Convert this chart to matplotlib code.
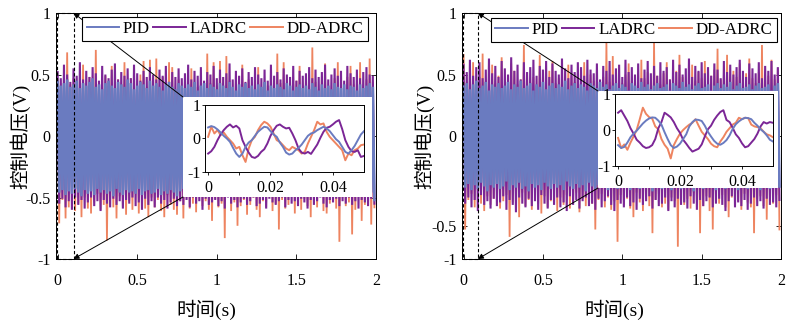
import numpy as np
import matplotlib
matplotlib.use('Agg')
import matplotlib.pyplot as plt
from matplotlib.patches import Rectangle

plt.rcParams['font.family'] = ['Liberation Serif', 'Noto Sans CJK SC', 'DejaVu Sans']
plt.rcParams['axes.unicode_minus'] = False

# ---------------- text / categories ----------------
series_names = ['PID', 'LADRC', 'DD-ADRC']
colors = {'PID': '#6a7bc0', 'LADRC': '#7b2696', 'DD-ADRC': '#ee8460'}
xlabel_text = '时间(s)'
ylabel_text = '控制电压(V)'
xtick_vals = [0, 0.5, 1, 1.5, 2]
xtick_labels = ['0', '0.5', '1', '1.5', '2']
ytick_labels = ['-1', '-0.5', '0', '0.5', '1']
ytick_vals_left = [-1, -0.5, 0, 0.5, 1]
ytick_vals_right = [-1, -0.73, 0, 0.5, 1]
inset_xtick_vals = [0, 0.01, 0.02, 0.03, 0.04]
inset_xtick_labels = ['0', '', '0.02', '', '0.04']
inset_ytick_vals = [-1, 0, 1]
inset_ytick_labels = ['-1', '0', '1']

main_step = 0.01     # s between successive peak samples (upper, lower alternate)
inset_step = 0.001   # s

# ---------------- left panel: peak values (upper / lower per cycle) ----------------
L_pid_up = [0.44,0.41,0.43,0.46,0.40,0.42,0.45,0.39,0.43,0.41,
            0.44,0.47,0.40,0.42,0.38,0.43,0.45,0.41,0.39,0.44,
            0.42,0.40,0.46,0.43,0.38,0.41,0.44,0.42,0.39,0.45,
            0.41,0.43,0.40,0.37,0.42,0.44,0.40,0.38,0.43,0.41,
            0.39,0.42,0.40,0.44,0.37,0.41,0.43,0.39,0.42,0.40,
            0.38,0.43,0.41,0.39,0.44,0.40,0.37,0.42,0.40,0.43,
            0.39,0.41,0.38,0.42,0.40,0.44,0.37,0.41,0.39,0.42,
            0.40,0.38,0.43,0.41,0.37,0.40,0.42,0.39,0.41,0.38,
            0.43,0.40,0.37,0.42,0.39,0.41,0.38,0.43,0.40,0.39,
            0.42,0.38,0.41,0.40,0.37,0.42,0.39,0.41,0.43,0.40]
L_pid_lo = [-0.46,-0.44,-0.48,-0.45,-0.47,-0.43,-0.46,-0.49,-0.44,-0.47,
            -0.45,-0.48,-0.43,-0.46,-0.44,-0.47,-0.45,-0.49,-0.43,-0.46,
            -0.48,-0.44,-0.46,-0.45,-0.47,-0.43,-0.48,-0.45,-0.44,-0.47,
            -0.46,-0.43,-0.48,-0.45,-0.47,-0.44,-0.46,-0.49,-0.45,-0.43,
            -0.47,-0.45,-0.48,-0.44,-0.46,-0.47,-0.43,-0.45,-0.48,-0.44,
            -0.46,-0.45,-0.47,-0.43,-0.48,-0.46,-0.44,-0.47,-0.45,-0.49,
            -0.44,-0.46,-0.48,-0.45,-0.43,-0.47,-0.46,-0.44,-0.48,-0.45,
            -0.47,-0.43,-0.46,-0.49,-0.45,-0.44,-0.47,-0.46,-0.48,-0.44,
            -0.45,-0.47,-0.43,-0.46,-0.48,-0.45,-0.44,-0.47,-0.46,-0.49,
            -0.45,-0.43,-0.47,-0.46,-0.44,-0.48,-0.45,-0.47,-0.46,-0.52]
L_lad_up = [0.52,0.47,0.58,0.50,0.44,0.55,0.49,0.60,0.46,0.53,
            0.48,0.56,0.51,0.45,0.57,0.50,0.47,0.54,0.59,0.46,
            0.52,0.49,0.55,0.47,0.58,0.51,0.45,0.53,0.48,0.56,
            0.50,0.46,0.54,0.49,0.57,0.44,0.52,0.48,0.55,0.47,
            0.51,0.58,0.46,0.53,0.49,0.56,0.45,0.52,0.50,0.57,
            0.47,0.54,0.48,0.51,0.59,0.46,0.53,0.49,0.55,0.44,
            0.52,0.48,0.56,0.50,0.47,0.54,0.45,0.58,0.49,0.52,
            0.46,0.55,0.50,0.48,0.57,0.45,0.53,0.49,0.51,0.56,
            0.47,0.54,0.48,0.52,0.58,0.46,0.50,0.55,0.49,0.53,
            0.45,0.57,0.51,0.48,0.54,0.47,0.52,0.56,0.50,0.49]
L_lad_lo = [-0.55,-0.51,-0.58,-0.53,-0.60,-0.50,-0.56,-0.52,-0.59,-0.54,
            -0.50,-0.57,-0.53,-0.61,-0.52,-0.55,-0.58,-0.51,-0.56,-0.53,
            -0.59,-0.52,-0.55,-0.50,-0.57,-0.54,-0.60,-0.51,-0.56,-0.53,
            -0.58,-0.50,-0.55,-0.52,-0.59,-0.54,-0.51,-0.57,-0.53,-0.56,
            -0.52,-0.58,-0.50,-0.55,-0.53,-0.60,-0.51,-0.56,-0.54,-0.52,
            -0.57,-0.53,-0.59,-0.50,-0.55,-0.52,-0.58,-0.54,-0.51,-0.56,
            -0.53,-0.50,-0.57,-0.55,-0.52,-0.59,-0.51,-0.54,-0.56,-0.53,
            -0.50,-0.58,-0.52,-0.55,-0.53,-0.57,-0.51,-0.54,-0.59,-0.52,
            -0.56,-0.53,-0.50,-0.55,-0.58,-0.52,-0.54,-0.51,-0.57,-0.53,
            -0.55,-0.50,-0.56,-0.53,-0.59,-0.52,-0.54,-0.57,-0.51,-0.55]
L_dd_up = [0.45,0.38,0.50,0.68,0.42,0.47,0.35,0.44,0.58,0.40,
           0.48,0.36,0.70,0.43,0.39,0.49,0.41,0.57,0.37,0.46,
           0.42,0.60,0.38,0.47,0.44,0.36,0.50,0.61,0.40,0.62,
           0.45,0.63,0.39,0.48,0.42,0.60,0.56,0.37,0.46,0.41,
           0.49,0.35,0.55,0.44,0.40,0.47,0.38,0.67,0.43,0.60,
           0.41,0.61,0.36,0.65,0.45,0.39,0.48,0.42,0.58,0.37,
           0.46,0.40,0.49,0.56,0.38,0.44,0.41,0.47,0.35,0.67,
           0.43,0.60,0.39,0.48,0.42,0.45,0.57,0.37,0.46,0.40,
           0.72,0.44,0.38,0.49,0.59,0.41,0.36,0.47,0.60,0.43,
           0.39,0.48,0.57,0.42,0.45,0.60,0.37,0.46,0.63,0.44]
L_dd_lo = [-0.71,-0.52,-0.67,-0.58,-0.48,-0.61,-0.55,-0.66,-0.50,-0.59,
           -0.63,-0.54,-0.47,-0.60,-0.56,-0.85,-0.51,-0.58,-0.67,-0.49,
           -0.57,-0.64,-0.53,-0.60,-0.46,-0.63,-0.55,-0.59,-0.66,-0.50,
           -0.58,-0.52,-0.61,-0.66,-0.48,-0.56,-0.60,-0.64,-0.53,-0.67,
           -0.50,-0.59,-0.55,-0.62,-0.47,-0.57,-0.53,-0.60,-0.69,-0.51,
           -0.58,-0.55,-0.83,-0.49,-0.61,-0.54,-0.73,-0.57,-0.52,-0.64,
           -0.56,-0.50,-0.60,-0.66,-0.53,-0.58,-0.47,-0.61,-0.55,-0.76,
           -0.52,-0.59,-0.56,-0.49,-0.63,-0.54,-0.60,-0.51,-0.57,-0.66,
           -0.53,-0.58,-0.48,-0.61,-0.63,-0.55,-0.52,-0.59,-0.86,-0.50,
           -0.57,-0.54,-0.80,-0.60,-0.49,-0.69,-0.56,-0.53,-0.72,-0.58]

# ---------------- right panel: peak values ----------------
R_pid_up = [0.40,0.43,0.38,0.42,0.45,0.39,0.41,0.44,0.37,0.42,
            0.40,0.43,0.39,0.41,0.44,0.38,0.42,0.40,0.45,0.39,
            0.41,0.43,0.37,0.42,0.40,0.44,0.38,0.41,0.43,0.39,
            0.42,0.40,0.45,0.38,0.41,0.43,0.39,0.42,0.40,0.37,
            0.43,0.41,0.39,0.44,0.40,0.42,0.38,0.41,0.43,0.39,
            0.42,0.40,0.37,0.43,0.41,0.39,0.44,0.40,0.42,0.38,
            0.41,0.43,0.39,0.40,0.42,0.37,0.43,0.41,0.39,0.44,
            0.40,0.42,0.38,0.41,0.43,0.39,0.40,0.42,0.37,0.41,
            0.43,0.39,0.42,0.40,0.44,0.38,0.41,0.43,0.39,0.40,
            0.42,0.38,0.41,0.43,0.39,0.40,0.42,0.37,0.41,0.43]
R_pid_lo = [-0.42,-0.39,-0.44,-0.40,-0.43,-0.38,-0.41,-0.45,-0.40,-0.42,
            -0.39,-0.43,-0.41,-0.37,-0.44,-0.40,-0.42,-0.38,-0.43,-0.41,
            -0.45,-0.39,-0.42,-0.40,-0.44,-0.38,-0.41,-0.43,-0.39,-0.42,
            -0.40,-0.44,-0.37,-0.41,-0.43,-0.39,-0.42,-0.40,-0.45,-0.38,
            -0.41,-0.43,-0.40,-0.42,-0.39,-0.44,-0.41,-0.38,-0.43,-0.40,
            -0.42,-0.39,-0.44,-0.41,-0.37,-0.43,-0.40,-0.42,-0.39,-0.45,
            -0.41,-0.38,-0.43,-0.40,-0.42,-0.44,-0.39,-0.41,-0.43,-0.38,
            -0.40,-0.42,-0.45,-0.39,-0.41,-0.43,-0.40,-0.37,-0.42,-0.44,
            -0.39,-0.41,-0.43,-0.40,-0.38,-0.42,-0.44,-0.39,-0.41,-0.43,
            -0.40,-0.42,-0.38,-0.44,-0.41,-0.39,-0.43,-0.40,-0.42,-0.41]
R_lad_up = [0.58,0.52,0.62,0.49,0.56,0.60,0.47,0.54,0.63,0.51,
            0.57,0.48,0.61,0.55,0.50,0.64,0.53,0.58,0.46,0.60,
            0.52,0.56,0.62,0.49,0.57,0.54,0.61,0.48,0.59,0.53,
            0.50,0.63,0.55,0.47,0.58,0.52,0.60,0.56,0.49,0.62,
            0.54,0.51,0.59,0.46,0.57,0.53,0.61,0.50,0.55,0.58,
            0.48,0.62,0.52,0.56,0.50,0.59,0.47,0.54,0.61,0.51,
            0.57,0.49,0.60,0.53,0.56,0.46,0.62,0.52,0.58,0.50,
            0.55,0.63,0.48,0.57,0.53,0.60,0.51,0.56,0.49,0.59,
            0.54,0.47,0.61,0.52,0.58,0.50,0.56,0.62,0.53,0.48,
            0.59,0.55,0.51,0.60,0.47,0.57,0.53,0.61,0.50,0.56]
R_lad_lo = [-0.55,-0.50,-0.58,-0.52,-0.61,-0.48,-0.56,-0.53,-0.59,-0.51,
            -0.57,-0.54,-0.49,-0.60,-0.52,-0.56,-0.62,-0.50,-0.55,-0.58,
            -0.51,-0.57,-0.53,-0.60,-0.48,-0.55,-0.59,-0.52,-0.56,-0.50,
            -0.58,-0.54,-0.61,-0.49,-0.56,-0.52,-0.59,-0.53,-0.50,-0.57,
            -0.55,-0.60,-0.51,-0.58,-0.53,-0.49,-0.56,-0.61,-0.52,-0.55,
            -0.58,-0.50,-0.57,-0.54,-0.60,-0.51,-0.56,-0.53,-0.49,-0.59,
            -0.52,-0.57,-0.55,-0.50,-0.61,-0.53,-0.58,-0.51,-0.56,-0.54,
            -0.59,-0.49,-0.55,-0.60,-0.52,-0.57,-0.53,-0.50,-0.58,-0.55,
            -0.51,-0.56,-0.61,-0.53,-0.49,-0.58,-0.54,-0.57,-0.52,-0.60,
            -0.55,-0.50,-0.57,-0.53,-0.59,-0.51,-0.56,-0.54,-0.58,-0.52]
R_dd_up = [0.66,0.44,0.50,0.60,0.41,0.48,0.67,0.45,0.52,0.58,
           0.43,0.49,0.64,0.40,0.47,0.59,0.53,0.42,0.46,0.74,
           0.51,0.44,0.48,0.41,0.66,0.50,0.45,0.53,0.61,0.43,
           0.47,0.52,0.40,0.58,0.49,0.44,0.51,0.46,0.60,0.42,
           0.50,0.45,0.53,0.41,0.48,0.76,0.44,0.65,0.52,0.46,
           0.43,0.50,0.59,0.45,0.48,0.41,0.62,0.47,0.52,0.44,
           0.76,0.49,0.42,0.51,0.60,0.46,0.43,0.53,0.66,0.48,
           0.41,0.50,0.58,0.45,0.52,0.47,0.61,0.43,0.49,0.54,
           0.71,0.46,0.50,0.66,0.42,0.53,0.48,0.59,0.44,0.51,
           0.63,0.47,0.43,0.52,0.74,0.45,0.49,0.62,0.46,0.55]
R_dd_lo = [-0.76,-0.52,-0.47,-0.58,-0.44,-0.55,-0.61,-0.49,-0.56,-0.51,
           -0.45,-0.59,-0.53,-0.48,-0.82,-0.54,-0.50,-0.66,-0.46,-0.57,
           -0.52,-0.60,-0.47,-0.55,-0.63,-0.49,-0.58,-0.53,-0.45,-0.61,
           -0.50,-0.56,-0.48,-0.59,-0.54,-0.46,-0.62,-0.51,-0.57,-0.49,
           -0.55,-0.76,-0.52,-0.47,-0.58,-0.50,-0.60,-0.53,-0.86,-0.48,
           -0.56,-0.51,-0.59,-0.66,-0.46,-0.54,-0.61,-0.49,-0.57,-0.79,
           -0.52,-0.47,-0.58,-0.55,-0.60,-0.50,-0.53,-0.90,-0.48,-0.56,
           -0.51,-0.59,-0.46,-0.54,-0.79,-0.57,-0.49,-0.61,-0.76,-0.52,
           -0.55,-0.48,-0.58,-0.66,-0.50,-0.56,-0.53,-0.60,-0.47,-0.54,
           -0.58,-0.79,-0.51,-0.49,-0.57,-0.68,-0.52,-0.55,-0.48,-0.76]

# ---------------- inset (0 - 0.05 s) samples ----------------
LI_pid = [0.33,0.37,0.34,0.27,0.18,0.08,0.00,-0.10,-0.28,-0.45,
          -0.55,-0.45,-0.25,-0.12,-0.05,0.08,0.20,0.28,0.35,0.33,
          0.22,0.12,0.05,-0.12,-0.25,-0.42,-0.48,-0.45,-0.35,-0.28,
          -0.18,-0.05,0.08,0.15,0.18,0.25,0.30,0.35,0.30,0.22,
          0.10,-0.02,-0.10,-0.25,-0.40,-0.45,-0.35,-0.22,-0.05,0.12,
          0.22]
LI_lad = [-0.45,-0.38,-0.25,-0.05,0.12,0.25,0.35,0.42,0.33,0.38,
          0.30,-0.05,-0.25,-0.42,-0.55,-0.58,-0.52,-0.40,-0.32,-0.15,
          0.08,0.25,0.38,0.42,0.35,0.30,0.32,0.15,-0.05,-0.30,
          -0.42,-0.45,-0.40,-0.46,-0.32,-0.18,0.02,0.20,0.32,0.35,
          0.42,0.50,0.55,0.28,-0.05,-0.25,-0.38,-0.40,-0.35,-0.55,
          -0.52]
LI_dd = [0.05,0.35,0.15,0.25,0.10,0.18,0.05,-0.05,-0.15,-0.30,
         -0.25,-0.50,-0.70,-0.30,-0.05,0.05,0.25,0.40,0.50,0.45,
         0.35,0.15,-0.05,-0.10,-0.20,-0.30,-0.35,-0.25,-0.30,-0.35,
         -0.45,-0.40,-0.15,0.05,0.25,0.50,0.42,0.45,0.20,0.05,
         -0.05,-0.15,-0.25,-0.35,-0.65,-0.45,-0.50,-0.35,-0.30,-0.20,
         -0.18]
RI_pid = [-0.42,-0.50,-0.47,-0.35,-0.20,-0.10,-0.02,0.08,0.18,0.26,
          0.32,0.35,0.34,0.26,0.15,-0.06,-0.25,-0.42,-0.50,-0.46,
          -0.38,-0.25,-0.12,0.10,0.22,0.29,0.28,0.25,0.12,-0.05,
          -0.18,-0.30,-0.38,-0.41,-0.36,-0.28,-0.15,0.03,0.16,0.24,
          0.30,0.34,0.33,0.30,0.20,0.12,0.02,-0.05,-0.15,-0.27,
          -0.32]
RI_lad = [0.48,0.55,0.40,0.25,0.05,-0.10,-0.27,-0.35,-0.45,-0.50,
          -0.48,-0.42,-0.25,0.05,0.22,0.48,0.42,0.35,0.22,0.05,
          -0.08,-0.27,-0.38,-0.50,-0.60,-0.56,-0.52,-0.40,-0.18,0.02,
          0.12,0.28,0.40,0.50,0.55,0.28,0.22,0.06,-0.12,-0.22,
          -0.37,-0.48,-0.45,-0.35,-0.25,-0.10,0.10,0.22,0.18,0.22,
          0.20]
RI_dd = [-0.22,-0.50,-0.40,-0.55,-0.35,-0.18,0.00,0.30,0.62,0.45,
         0.36,0.32,0.10,0.02,-0.25,-0.41,-0.52,-0.79,-0.42,-0.25,
         -0.10,0.00,0.08,0.15,0.20,0.30,0.12,-0.05,-0.15,-0.25,
         -0.38,-0.45,-0.48,-0.32,-0.20,-0.05,0.05,0.15,0.20,0.34,
         0.30,0.34,0.33,0.15,0.10,0.08,0.05,-0.05,-0.12,-0.15,
         -0.20]

for arr in [L_pid_up, L_pid_lo, L_lad_up, L_lad_lo, L_dd_up, L_dd_lo,
            R_pid_up, R_pid_lo, R_lad_up, R_lad_lo, R_dd_up, R_dd_lo]:
    assert len(arr) == 100, len(arr)
for arr in [LI_pid, LI_lad, LI_dd, RI_pid, RI_lad, RI_dd]:
    assert len(arr) == 51, len(arr)


def interleave(up, lo):
    v = np.empty(2 * len(up))
    v[0::2] = up
    v[1::2] = lo
    return v


t_main = np.arange(200) * main_step
t_inset = np.arange(51) * inset_step

fig = plt.figure(figsize=(7.99, 3.33), dpi=100)

panels = [
    dict(rect=[0.0701, 0.2222, 0.4005, 0.7387],
         main={'PID': (L_pid_up, L_pid_lo), 'LADRC': (L_lad_up, L_lad_lo), 'DD-ADRC': (L_dd_up, L_dd_lo)},
         inset={'PID': LI_pid, 'LADRC': LI_lad, 'DD-ADRC': LI_dd},
         yticks=ytick_vals_left, zoom_x=(-0.006, 0.1),
         box=(0.229, 0.4084, 0.2366, 0.3003),
         inset_rect=[0.2566, 0.4835, 0.1990, 0.2012],
         leg_anchor=(0.975, 0.984), xl=0.469, yl=-0.1125),
    dict(rect=[0.5782, 0.2222, 0.3993, 0.7387],
         main={'PID': (R_pid_up, R_pid_lo), 'LADRC': (R_lad_up, R_lad_lo), 'DD-ADRC': (R_dd_up, R_dd_lo)},
         inset={'PID': RI_pid, 'LADRC': RI_lad, 'DD-ADRC': RI_dd},
         yticks=ytick_vals_right, zoom_x=(-0.006, 0.09),
         box=(0.7484, 0.4354, 0.2253, 0.2913),
         inset_rect=[0.7697, 0.5015, 0.1977, 0.2162],
         leg_anchor=(0.987, 0.980), xl=0.476, yl=-0.1176),
]

draw_order = ['DD-ADRC', 'LADRC', 'PID']
main_lw = {'DD-ADRC': 1.3, 'LADRC': 1.5, 'PID': 1.9}

for p in panels:
    ax = fig.add_axes(p['rect'])
    handles = {}
    for name in draw_order:
        up, lo = p['main'][name]
        handles[name], = ax.plot(t_main, interleave(up, lo), color=colors[name],
                                 lw=main_lw[name], zorder=2, solid_joinstyle='miter')
    ax.set_xlim(-0.01, 2)
    ax.set_ylim(-1, 1)
    ax.set_xticks(xtick_vals)
    ax.set_xticklabels(xtick_labels)
    ax.set_yticks(p['yticks'])
    ax.set_yticklabels(ytick_labels)
    ax.tick_params(direction='in', length=3.5, width=0.6, top=True, right=True, labelsize=11.5)
    ax.tick_params(axis='x', pad=10)
    ax.tick_params(axis='y', pad=4)
    for s in ax.spines.values():
        s.set_linewidth(0.7)
    ax.set_xlabel(xlabel_text, fontsize=14)
    ax.xaxis.label.set_va('center')
    ax.xaxis.set_label_coords(p['xl'], -0.207)
    ax.set_ylabel(ylabel_text, fontsize=14)
    ax.yaxis.label.set_va('center')
    ax.yaxis.set_label_coords(p['yl'], 0.5)

    # dashed zoom rectangle
    x0, x1 = p['zoom_x']
    ax.plot([x0, x1, x1, x0, x0], [-1, -1, 1, 1, -1], color='k', lw=0.8,
            ls=(0, (3, 2)), zorder=4, clip_on=False)

    # white background of the inset
    bx, by, bw, bh = p['box']
    ax.add_patch(Rectangle((bx, by), bw, bh, transform=fig.transFigure,
                           facecolor='white', edgecolor='none', zorder=3))

    # connector arrows
    for yc, yy in [(1, by + bh), (-1, by)]:
        ax.annotate('', xy=(x1, yc), xycoords='data', xytext=(bx, yy),
                    textcoords='figure fraction',
                    arrowprops=dict(arrowstyle='-|>', color='k', lw=0.7,
                                    shrinkA=0, shrinkB=0, mutation_scale=8),
                    zorder=4, annotation_clip=False)

    leg = ax.legend([handles[n] for n in series_names], series_names, ncol=3,
                    loc='upper right', bbox_to_anchor=p['leg_anchor'], borderaxespad=0,
                    frameon=True, fancybox=False, edgecolor='k', framealpha=1,
                    handlelength=1.9, handletextpad=0.25, columnspacing=0.2,
                    borderpad=0.25, prop={'family': 'Liberation Serif', 'size': 12.2})
    leg.get_frame().set_linewidth(0.8)
    for lh in leg.get_lines():
        lh.set_linewidth(1.4)
    leg.set_zorder(5)

    # inset
    axi = fig.add_axes(p['inset_rect'])
    for name in draw_order:
        axi.plot(t_inset, p['inset'][name], color=colors[name], lw=1.4)
    axi.set_xlim(-0.001, 0.05)
    axi.set_ylim(-1, 1)
    axi.set_xticks(inset_xtick_vals)
    axi.set_xticklabels(inset_xtick_labels)
    axi.set_yticks(inset_ytick_vals)
    axi.set_yticklabels(inset_ytick_labels)
    axi.tick_params(direction='out', length=2, width=0.6, labelsize=11.5)
    axi.tick_params(axis='x', pad=4)
    axi.tick_params(axis='y', pad=1)
    for s in axi.spines.values():
        s.set_linewidth(0.7)

fig.savefig('out.png', dpi=100)
